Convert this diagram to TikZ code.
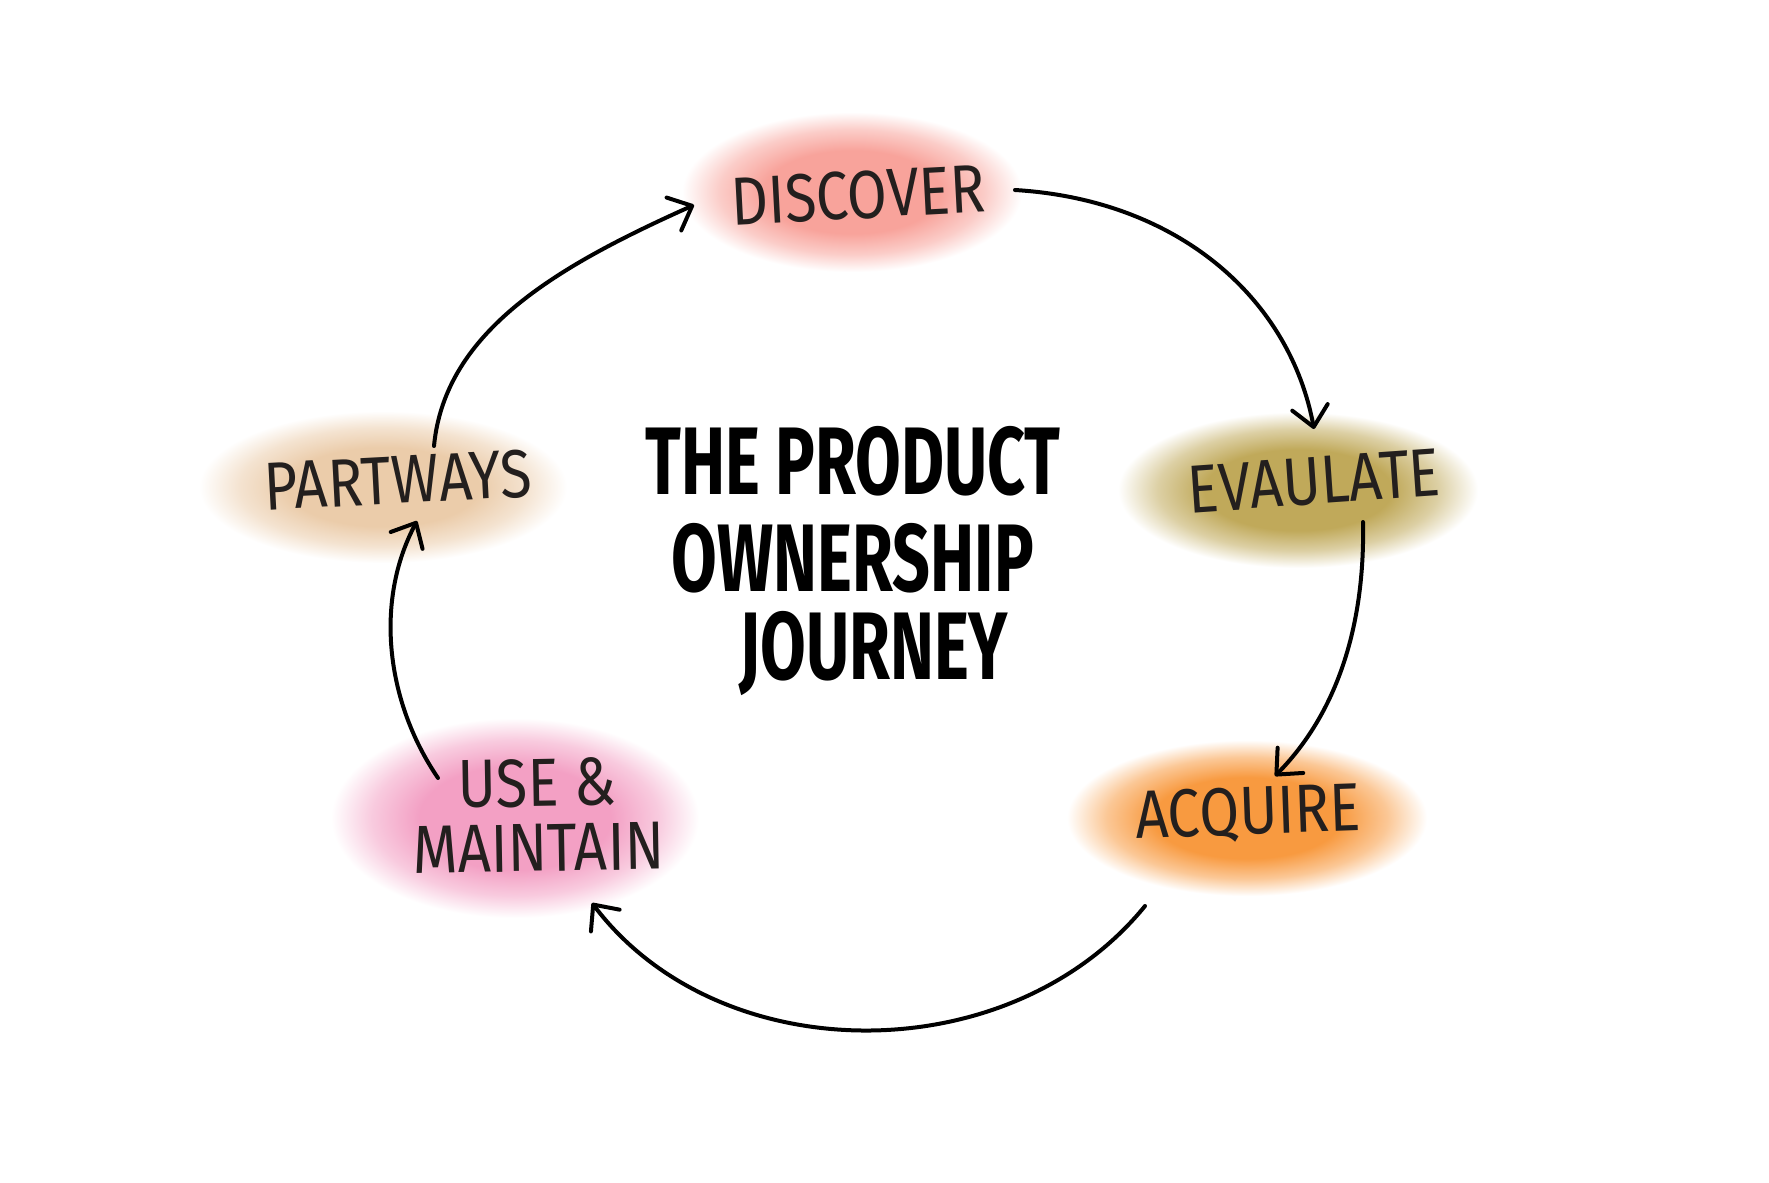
\documentclass[tikz,border=0pt]{standalone}
\usepackage{fontspec}
\usetikzlibrary{arrows.meta,shapes.geometric}
\newfontfamily\labelfont[FakeStretch=0.85]{Fira Sans}
\newfontfamily\titlefont[FakeStretch=0.69]{Fira Sans}
\definecolor{discC}{HTML}{F8A39B}
\definecolor{evalC}{HTML}{C0A95A}
\definecolor{acqC}{HTML}{F89A40}
\definecolor{useC}{HTML}{F3A0C4}
\definecolor{partC}{HTML}{EBCCAA}
\colorlet{discL}{discC!55!white}
\colorlet{evalL}{evalC!55!white}
\colorlet{acqL}{acqC!55!white}
\colorlet{useL}{useC!55!white}
\colorlet{partL}{partC!55!white}
\definecolor{ink}{HTML}{231F1E}
\pgfdeclareradialshading{discshade}{\pgfpoint{0bp}{0bp}}{color(0bp)=(discC); color(13bp)=(discC); color(19.5bp)=(discL); color(25bp)=(white); color(50bp)=(white)}
\pgfdeclareradialshading{evalshade}{\pgfpoint{0bp}{0bp}}{color(0bp)=(evalC); color(13bp)=(evalC); color(19.5bp)=(evalL); color(25bp)=(white); color(50bp)=(white)}
\pgfdeclareradialshading{acqshade}{\pgfpoint{0bp}{0bp}}{color(0bp)=(acqC); color(13bp)=(acqC); color(19.5bp)=(acqL); color(25bp)=(white); color(50bp)=(white)}
\pgfdeclareradialshading{useshade}{\pgfpoint{0bp}{0bp}}{color(0bp)=(useC); color(13bp)=(useC); color(19.5bp)=(useL); color(25bp)=(white); color(50bp)=(white)}
\pgfdeclareradialshading{partshade}{\pgfpoint{0bp}{0bp}}{color(0bp)=(partC); color(13bp)=(partC); color(19.5bp)=(partL); color(25bp)=(white); color(50bp)=(white)}
\tikzset{
  blob/.style={ellipse, inner sep=0pt, draw=none},
  lblbase/.style={inner sep=0pt, text=ink, font=\labelfont\fontsize{34}{32.5}\selectfont},
  lbl/.style={lblbase, text height=23.5pt, text depth=0pt},
  ttl/.style={inner sep=0pt, text=black, font=\titlefont\bfseries\fontsize{48}{48}\selectfont, text height=33pt, text depth=0pt},
  arr/.style={draw=black, line width=2pt, line cap=round, -{Straight Barb[length=10pt,width=18pt,round]}}
}
\begin{document}
\begin{tikzpicture}[x=0.5pt,y=-0.5pt]
\useasboundingbox[fill=white] (0,0) rectangle (1769,1183);
% blobs
\node[blob, shading=discshade, minimum width=170pt, minimum height=80pt] (discblob) at (852,192) {};
\node[blob, shading=evalshade, minimum width=180pt, minimum height=78pt] (evalblob) at (1298,490) {};
\node[blob, shading=acqshade, minimum width=180pt, minimum height=78pt] (acqblob) at (1247,818) {};
\node[blob, shading=useshade, minimum width=184pt, minimum height=100pt] (useblob) at (515,818) {};
\node[blob, shading=partshade, minimum width=184pt, minimum height=76pt] (partblob) at (383,487) {};
% labels
\node[lbl, rotate=3] (disc) at (858,195) {DISCOVER};
\node[lbl, rotate=4] (eval) at (1314,481) {EVAULATE};
\node[lbl, rotate=2] (acq) at (1248,811) {ACQUIRE};
\node[lblbase, rotate=1, align=center] (use) at (538,815) {USE \&\\MAINTAIN};
\node[lbl, rotate=3] (part) at (398,480) {PARTWAYS};
% title
\node[ttl] (t1) at (853,461) {THE PRODUCT};
\node[ttl] (t2) at (853,558) {OWNERSHIP};
\node[ttl] (t3) at (874,646) {JOURNEY};
% arrows
\draw[arr] ([shift={(163,-2)}]discblob.center) .. controls +(165,10) and +(-24,-129) .. ([shift={(16,-61)}]evalblob.center);
\draw[arr] ([shift={(65,32)}]evalblob.center) .. controls +(2,98) and +(65,-66) .. ([shift={(28,-42)}]acqblob.center);
\draw[arr] ([shift={(-102,88)}]acqblob.center) .. controls +(-135,166) and +(128,169) .. ([shift={(77,85)}]useblob.center);
\draw[arr] ([shift={(-77,-40)}]useblob.center) .. controls +(-53,-78) and +(-42,79) .. ([shift={(34,34)}]partblob.center);
\draw[arr] ([shift={(51,-41)}]partblob.center) .. controls +(11,-116) and +(-134,60) .. ([shift={(-158,13)}]discblob.center);
\end{tikzpicture}
\end{document}
